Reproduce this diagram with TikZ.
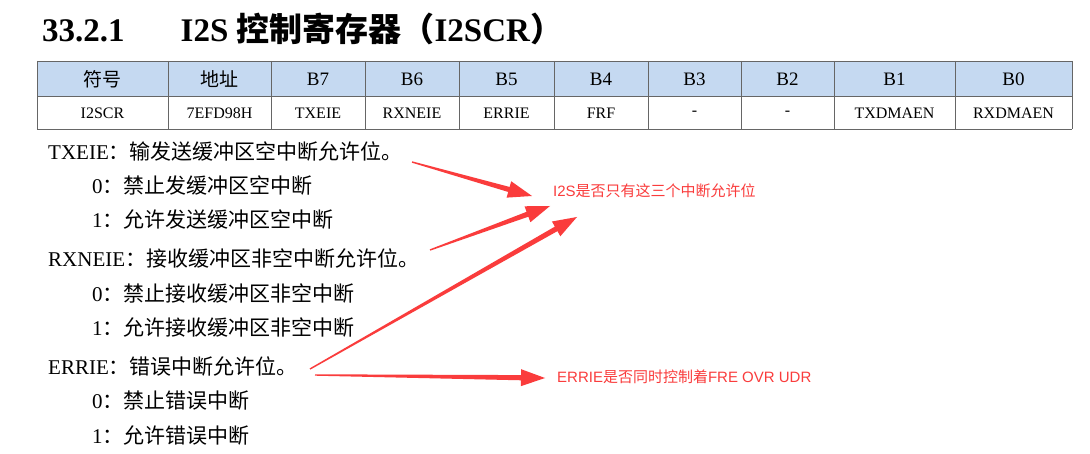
\documentclass[tikz,border=0pt]{standalone}
\usepackage{fontspec}
\setmainfont{Liberation Serif}
\newfontfamily\cjk{Noto Sans CJK SC}
\newfontfamily\lab{Liberation Sans}
\usetikzlibrary{calc}
\definecolor{hdr}{RGB}{197,217,241}
\definecolor{ared}{RGB}{250,60,60}
\newcommand\tarr[3]{%
  \coordinate (#3b) at ($(#2)!24pt!(#1)$);
  \fill[ared] ($(#1)!0.7pt!90:(#2)$) -- ($(#3b)!2.6pt!90:(#2)$) -- ($(#3b)!8.5pt!90:(#2)$) -- (#2)
    -- ($(#3b)!8.5pt!-90:(#2)$) -- ($(#3b)!2.6pt!-90:(#2)$) -- ($(#1)!0.7pt!-90:(#2)$) -- cycle;}
\begin{document}
\begin{tikzpicture}[x=1pt,y=-1pt,
  body/.style={anchor=west,font=\fontsize{21}{21}\selectfont,inner sep=0pt},
  cell/.style={font=\fontsize{16}{16}\selectfont,inner sep=0pt},
  note/.style={anchor=west,text=ared,font=\lab\fontsize{15}{15}\selectfont,inner sep=0pt}]
\useasboundingbox (0,0) rectangle (1090,454);
\fill[white] (0,0) rectangle (1090,454);
\node[anchor=west,inner sep=0pt,font=\bfseries\fontsize{33}{33}\selectfont] (title) at (42,29) {33.2.1\hspace{56pt}I2S {\cjk 控制寄存器（}I2SCR{\cjk ）}};
\def\xs{37,168,271,365,459,554,648,741,834,955,1072}
\fill[hdr] (37,61) rectangle (1072,96);
\foreach \x in \xs {\draw[gray!80!black,line width=0.7pt] (\x,61) -- (\x,129);}
\foreach \y in {61,96,129} {\draw[gray!80!black,line width=0.7pt] (37,\y) -- (1072,\y);}
\foreach [count=\i] \a/\b/\t/\v in {37/168/{\cjk 符号}/I2SCR,168/271/{\cjk 地址}/7EFD98H,271/365/B7/TXEIE,365/459/B6/RXNEIE,459/554/B5/ERRIE,554/648/B4/FRF,648/741/B3/-,741/834/B2/-,834/955/B1/TXDMAEN,955/1072/B0/RXDMAEN}{
  \node[cell,font=\fontsize{19}{19}\selectfont] (h\i) at ({(\a+\b)/2},79) {\t};
  \node[cell] (v\i) at ({(\a+\b)/2},113) {\v};}
\node[body] (t1) at (48,152) {TXEIE{\cjk ：输发送缓冲区空中断允许位。}};
\node[body] (t2) at (92,186) {0{\cjk ：禁止发缓冲区空中断}};
\node[body] (t3) at (92,220) {1{\cjk ：允许发送缓冲区空中断}};
\node[body] (r1) at (48,258) {RXNEIE{\cjk ：接收缓冲区非空中断允许位。}};
\node[body] (r2) at (92,294) {0{\cjk ：禁止接收缓冲区非空中断}};
\node[body] (r3) at (92,327) {1{\cjk ：允许接收缓冲区非空中断}};
\node[body] (e1) at (48,366) {ERRIE{\cjk ：错误中断允许位。}};
\node[body] (e2) at (92,401) {0{\cjk ：禁止错误中断}};
\node[body] (e3) at (92,435) {1{\cjk ：允许错误中断}};
\node[note] (n1) at (553,191) {I2S{\cjk 是否只有这三个中断允许位}};
\node[note] (n2) at (557,377) {ERRIE{\cjk 是否同时控制着}FRE OVR UDR};
\coordinate (a1s) at (412,162); \coordinate (a1e) at (532,196);
\coordinate (a2s) at (430,250); \coordinate (a2e) at (550,206);
\coordinate (a3s) at (310,369); \coordinate (a3e) at (577,217);
\coordinate (a4s) at (315,375); \coordinate (a4e) at (545,378);
\tarr{a1s}{a1e}{p}
\tarr{a2s}{a2e}{q}
\tarr{a3s}{a3e}{r}
\tarr{a4s}{a4e}{s}
\end{tikzpicture}
\end{document}
